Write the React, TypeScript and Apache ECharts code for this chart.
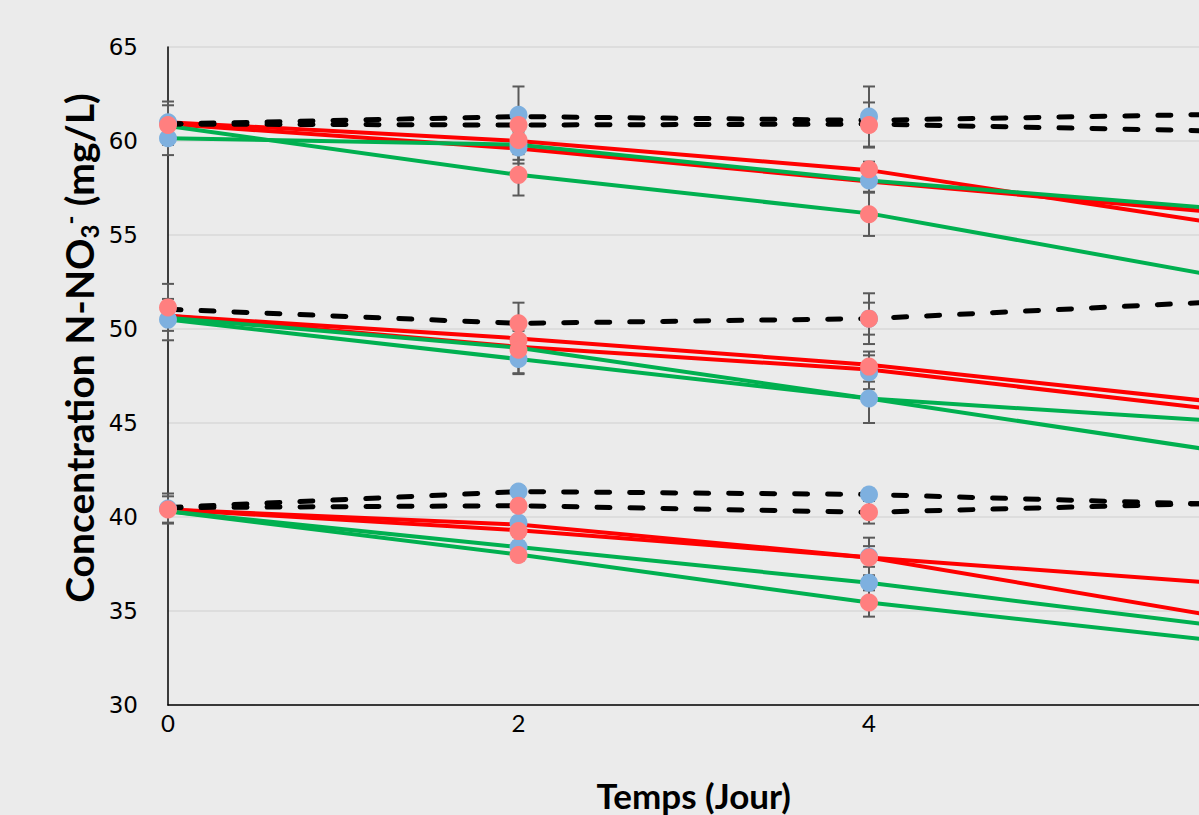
import React, { useEffect, useRef } from "react";
import * as echarts from "echarts";

// Time points (days)
const days = [0, 2, 4, 6];

// Model / trend lines (values at days 0, 2, 4, 6)
const red60a = [61.0, 60.0, 58.45, 55.6];
const red60b = [60.9, 59.6, 57.85, 56.2];
const red50a = [50.7, 49.5, 48.1, 46.1];
const red50b = [50.7, 49.05, 47.85, 45.7];
const red40a = [40.4, 39.6, 37.85, 36.47];
const red40b = [40.4, 39.3, 37.85, 34.7];

const green60a = [60.8, 58.2, 56.15, 52.8];
const green60b = [60.15, 59.8, 57.9, 56.4];
const green50a = [50.6, 49.0, 46.3, 45.1];
const green50b = [50.5, 48.4, 46.3, 43.5];
const green40a = [40.3, 38.4, 36.5, 34.2];
const green40b = [40.3, 38.0, 35.45, 33.4];

const dashed60a = [60.9, 61.3, 61.1, 61.42];
const dashed60b = [60.9, 60.85, 60.9, 60.53];
const dashed50 = [51.05, 50.3, 50.55, 51.45];
const dashed40a = [40.5, 41.35, 41.2, 40.67];
const dashed40b = [40.5, 40.6, 40.25, 40.73];

// Measured points: [day, value, error]
const bluePoints: number[][] = [
  [0, 61.0, 1.1], [0, 60.15, 0.9], [2, 61.4, 1.5], [2, 59.85, 0.85], [2, 59.65, 0.85],
  [4, 61.3, 1.6], [4, 57.9, 0.6],
  [0, 50.5, 1.1], [2, 48.4, 0.75], [4, 50.55, 0.85], [4, 47.7, 0.9], [4, 46.3, 1.3],
  [0, 40.45, 0.8], [2, 41.35, 0.3], [2, 39.7, 0.3], [2, 38.4, 0.3],
  [4, 41.2, 0.3], [4, 37.9, 0.55], [4, 36.5, 0.4],
];
const pinkPoints: number[][] = [
  [0, 60.85, 1.05], [2, 60.85, 0.5], [2, 60.05, 0.6], [2, 58.2, 1.1],
  [4, 60.85, 1.2], [4, 58.5, 0.4], [4, 56.1, 1.15],
  [0, 51.15, 1.25], [2, 50.3, 1.1], [2, 49.4, 0.5], [2, 48.9, 1.3],
  [4, 50.55, 1.35], [4, 48.0, 0.8],
  [0, 40.4, 0.7], [2, 40.6, 0.3], [2, 39.25, 0.3], [2, 37.98, 0.3],
  [4, 40.25, 0.6], [4, 37.85, 1.05], [4, 35.45, 0.75],
];

const yTicks = { min: 30, max: 65, interval: 5 };
const xTicks = { min: 0, max: 6, interval: 2 };

const RED = "#ff0000";
const GREEN = "#00b050";
const BLUE = "#7eb0df";
const PINK = "#ff7f7f";
const TITLE_FONT = "Lato, 'Open Sans', sans-serif";

function toPairs(vals: number[]) {
  return vals.map((v, i) => [days[i], v]);
}

export default function App() {
  const ref = useRef<HTMLDivElement>(null);
  useEffect(() => {
    if (!ref.current) return;
    const chart = echarts.init(ref.current, null, { renderer: "svg" });

    const solid = (name: string, vals: number[], color: string) => ({
      name,
      type: "line",
      data: toPairs(vals),
      symbol: "none",
      lineStyle: { color, width: 4 },
      z: 2,
    });
    const dashed = (name: string, vals: number[]) => ({
      name,
      type: "line",
      data: toPairs(vals),
      symbol: "none",
      lineStyle: { color: "#000", width: 5, type: [13, 20], cap: "round" },
      z: 3,
    });

    const errBars = {
      type: "custom",
      z: 4,
      data: [...bluePoints, ...pinkPoints],
      renderItem: (params: any, api: any) => {
        const x = api.value(0);
        const y = api.value(1);
        const e = api.value(2);
        const top = api.coord([x, y + e]);
        const bot = api.coord([x, y - e]);
        const hw = 6;
        const st = { stroke: "#595959", lineWidth: 2 };
        return {
          type: "group",
          children: [
            { type: "line", shape: { x1: top[0], y1: top[1], x2: bot[0], y2: bot[1] }, style: st },
            { type: "line", shape: { x1: top[0] - hw, y1: top[1], x2: top[0] + hw, y2: top[1] }, style: st },
            { type: "line", shape: { x1: bot[0] - hw, y1: bot[1], x2: bot[0] + hw, y2: bot[1] }, style: st },
          ],
        };
      },
    };

    const option: any = {
      animation: false,
      backgroundColor: "#ebebeb",
      grid: {
        left: 168,
        top: 47,
        bottom: 110,
        right: -20.5,
        outerBoundsMode: "none",
        containLabel: false,
      },
      xAxis: {
        type: "value",
        min: xTicks.min,
        max: xTicks.max,
        interval: xTicks.interval,
        axisLine: { show: true, lineStyle: { color: "#000", width: 1.5 } },
        axisTick: { show: false },
        splitLine: { show: false },
        axisLabel: {
          color: "#000",
          fontSize: 24,
          fontFamily: TITLE_FONT,
          margin: 5,
          showMaxLabel: false,
        },
        name: "Temps (Jour)",
        nameLocation: "middle",
        nameGap: 72,
        nameTextStyle: {
          color: "#000",
          fontSize: 35,
          fontWeight: "bold",
          fontFamily: TITLE_FONT,
        },
      },
      yAxis: {
        type: "value",
        min: yTicks.min,
        max: yTicks.max,
        interval: yTicks.interval,
        axisLine: { show: true, lineStyle: { color: "#000", width: 1.5 } },
        axisTick: { show: false },
        splitLine: { show: true, lineStyle: { color: "#d9d9d9", width: 1.5 } },
        axisLabel: {
          color: "#000",
          fontSize: 23,
          fontFamily: "'DejaVu Sans', sans-serif",
          margin: 30,
        },
      },
      graphic: [
        {
          type: "text",
          x: 79,
          y: 348,
          rotation: Math.PI / 2,
          style: {
            text: "{b|Concentration N-NO}{sub|3}{sup|-}{b| (mg/L)}",
            align: "center",
            verticalAlign: "middle",
            fill: "#000",
            rich: {
              b: {
                fontSize: 39,
                fontWeight: "bold",
                fontFamily: TITLE_FONT,
                lineHeight: 44,
                fill: "#000",
              },
              sub: {
                fontSize: 24,
                fontWeight: "bold",
                fontFamily: TITLE_FONT,
                lineHeight: 18,
                verticalAlign: "bottom",
                fill: "#000",
              },
              sup: {
                fontSize: 24,
                fontWeight: "bold",
                fontFamily: TITLE_FONT,
                lineHeight: 18,
                verticalAlign: "top",
                fill: "#000",
              },
            },
          },
        },
      ],
      series: [
        solid("R60a", red60a, RED),
        solid("R60b", red60b, RED),
        solid("R50a", red50a, RED),
        solid("R50b", red50b, RED),
        solid("R40a", red40a, RED),
        solid("R40b", red40b, RED),
        solid("G60a", green60a, GREEN),
        solid("G60b", green60b, GREEN),
        solid("G50a", green50a, GREEN),
        solid("G50b", green50b, GREEN),
        solid("G40a", green40a, GREEN),
        solid("G40b", green40b, GREEN),
        dashed("D60a", dashed60a),
        dashed("D60b", dashed60b),
        dashed("D50", dashed50),
        dashed("D40a", dashed40a),
        dashed("D40b", dashed40b),
        errBars,
        {
          name: "Blue",
          type: "scatter",
          data: bluePoints.map((p) => [p[0], p[1]]),
          symbol: "circle",
          symbolSize: 18,
          itemStyle: { color: BLUE, opacity: 1 },
          z: 5,
        },
        {
          name: "Pink",
          type: "scatter",
          data: pinkPoints.map((p) => [p[0], p[1]]),
          symbol: "circle",
          symbolSize: 18,
          itemStyle: { color: PINK, opacity: 1 },
          z: 6,
        },
      ],
    };
    chart.setOption(option);
    return () => chart.dispose();
  }, []);
  return (
    <div
      ref={ref}
      style={{ position: "fixed", left: 0, top: 0, width: 1199, height: 815 }}
    />
  );
}
